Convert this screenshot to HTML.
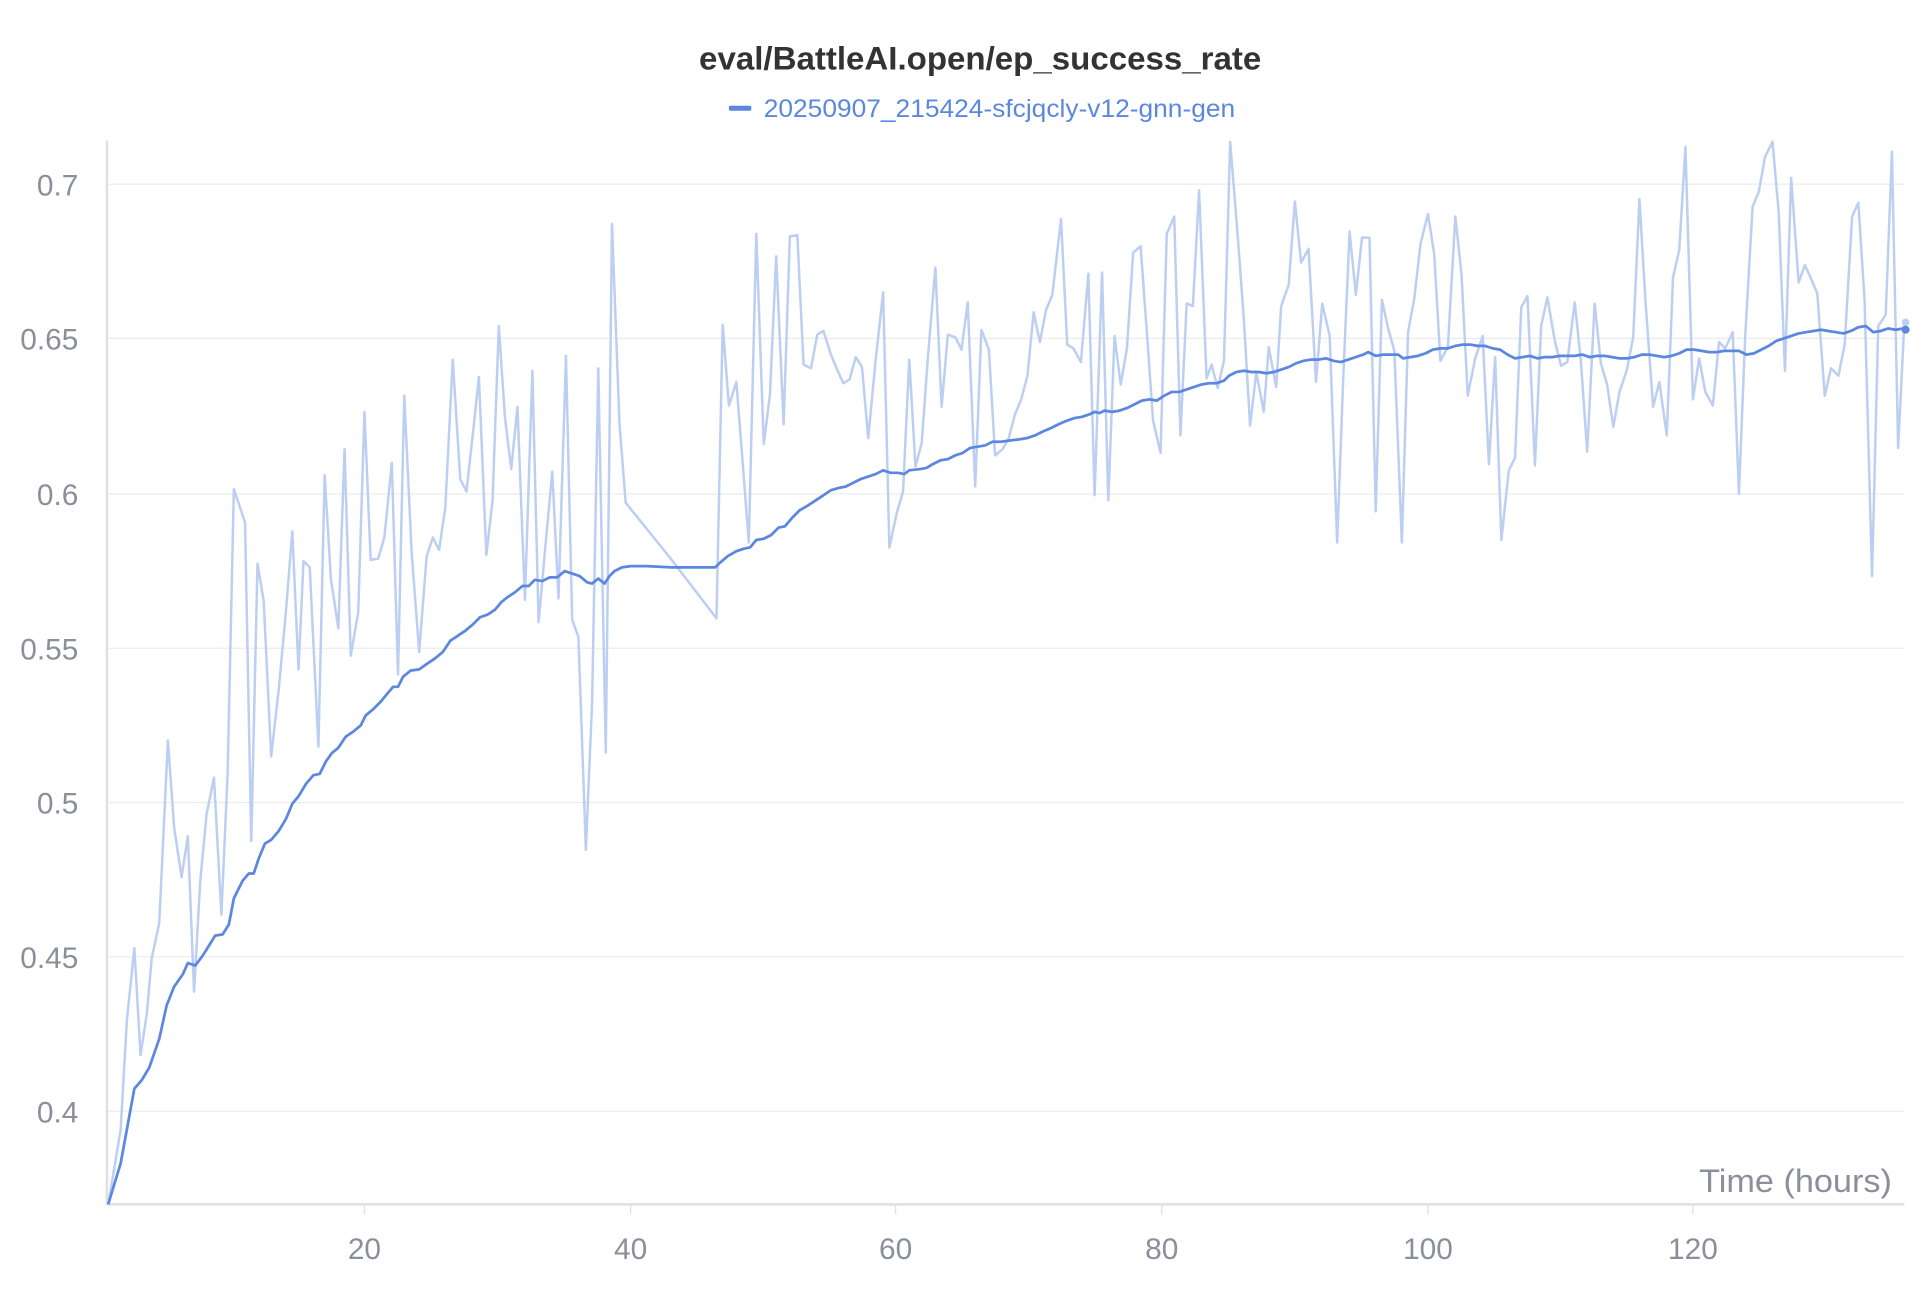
<!DOCTYPE html>
<html><head><meta charset="utf-8"><style>
html,body{margin:0;padding:0;background:#fff;}
svg{display:block;}
text{font-family:"Liberation Sans",sans-serif;}
</style></head><body>
<svg width="1928" height="1294" viewBox="0 0 1550 1040" preserveAspectRatio="none" xmlns="http://www.w3.org/2000/svg">
<rect width="1550" height="1040" fill="#fff"/>
<text x="788" y="56" text-anchor="middle" font-size="26" font-weight="bold" fill="#333" textLength="452" lengthAdjust="spacingAndGlyphs">eval/BattleAI.open/ep_success_rate</text>
<rect x="586" y="85" width="18" height="4" rx="1" fill="#5b87e0"/>
<text x="614" y="94" font-size="20" fill="#5b87e0" textLength="379" lengthAdjust="spacingAndGlyphs">20250907_215424-sfcjqcly-v12-gnn-gen</text>
<g stroke="#ececec" stroke-width="1">
<line x1="86" x2="1531" y1="148" y2="148"/><line x1="86" x2="1531" y1="272" y2="272"/>
<line x1="86" x2="1531" y1="397" y2="397"/><line x1="86" x2="1531" y1="521" y2="521"/>
<line x1="86" x2="1531" y1="645" y2="645"/><line x1="86" x2="1531" y1="769" y2="769"/>
<line x1="86" x2="1531" y1="893" y2="893"/>
</g>
<line x1="86" y1="113" x2="86" y2="969" stroke="#e0e0e0" stroke-width="2"/>
<line x1="86" y1="968" x2="1531" y2="968" stroke="#e0e0e0" stroke-width="2"/>
<g stroke="#e0e0e0" stroke-width="1"><line x1="293" x2="293" y1="968" y2="976"/><line x1="507" x2="507" y1="968" y2="976"/><line x1="720" x2="720" y1="968" y2="976"/><line x1="934" x2="934" y1="968" y2="976"/><line x1="1148" x2="1148" y1="968" y2="976"/><line x1="1361" x2="1361" y1="968" y2="976"/></g>
<g font-size="24" fill="#8a8f99" text-anchor="end">
<text x="63" y="157">0.7</text><text x="63" y="281">0.65</text><text x="63" y="406">0.6</text><text x="63" y="530">0.55</text><text x="63" y="654">0.5</text><text x="63" y="778">0.45</text><text x="63" y="902">0.4</text>
</g>
<g font-size="24" fill="#8a8f99" text-anchor="middle">
<text x="293" y="1012">20</text><text x="507" y="1012">40</text><text x="720" y="1012">60</text><text x="934" y="1012">80</text><text x="1148" y="1012">100</text><text x="1361" y="1012">120</text>
</g>
<text x="1521" y="958" font-size="26" fill="#8a8f99" text-anchor="end" textLength="155" lengthAdjust="spacingAndGlyphs">Time (hours)</text>
<polyline fill="none" stroke="#bccff2" stroke-width="2" stroke-linejoin="round" points="87,968 97,908 102,820 108,762 113,848 118,815 122,770 128,742 135,595 140,665 146,705 151,672 156,797 161,708 166,655 172,625 178,735 183,622 188,393 197,420 202,676 207,453 212,483 218,608 224,555 230,490 235,427 240,538 244,451 249,456 256,600 261,382 266,465 272,505 277,361 282,527 288,492 293,331 298,450 304,449 309,432 315,372 320,542 325,318 331,445 337,524 343,447 348,432 353,442 358,408 364,289 370,385 375,395 381,341 385,303 391,446 396,402 401,262 406,336 411,377 416,327 422,482 428,298 433,500 438,444 444,379 449,481 455,286 460,498 465,512 471,683 476,565 481,296 487,605 492,180 498,340 503,404 540,450 576,497 581,261 586,326 592,307 597,371 602,436 608,188 614,357 619,317 624,206 630,341 635,190 641,189 646,293 652,296 657,269 662,266 668,285 673,297 678,308 683,305 688,287 693,295 698,352 704,289 710,235 715,440 721,412 726,395 731,289 736,375 741,356 746,287 752,215 757,327 762,269 768,271 773,281 778,243 784,391 789,265 795,281 800,366 806,361 811,352 816,333 821,321 826,302 831,251 836,275 841,249 846,237 853,176 858,277 863,280 869,291 875,220 880,398 886,219 891,402 896,270 901,309 906,280 911,203 917,198 922,267 927,338 933,364 938,188 944,174 949,350 954,244 959,246 964,153 970,304 974,293 979,312 984,290 989,114 995,189 1000,257 1005,342 1010,299 1016,331 1020,279 1026,311 1030,246 1036,229 1041,162 1046,211 1052,200 1058,307 1063,244 1069,270 1075,436 1080,301 1085,186 1090,237 1095,191 1101,191 1106,411 1111,241 1116,264 1121,282 1127,436 1132,267 1137,240 1142,196 1148,172 1153,204 1158,290 1164,279 1170,174 1175,221 1180,318 1186,288 1192,270 1197,373 1202,287 1207,434 1213,378 1218,368 1223,247 1228,238 1234,374 1239,262 1244,239 1250,274 1255,294 1260,291 1266,243 1271,291 1276,363 1282,244 1287,292 1292,309 1297,343 1302,315 1308,297 1313,271 1318,160 1323,244 1329,327 1334,307 1340,350 1345,223 1350,201 1355,118 1361,321 1366,288 1371,315 1377,326 1382,275 1387,280 1393,267 1398,397 1403,271 1409,166 1414,154 1419,126 1425,114 1430,171 1435,298 1440,143 1446,227 1451,213 1456,224 1461,236 1467,318 1472,296 1478,302 1483,277 1489,174 1494,163 1499,241 1505,463 1510,262 1516,253 1521,122 1526,360 1531,259"/>
<polyline fill="none" stroke="#5b87e0" stroke-width="2.2" stroke-linejoin="round" points="87,968 97,935 108,875 114,868 120,858 128,835 134,808 140,793 147,783 151,774 157,776 163,768 168,760 173,752 179,751 184,743 188,722 195,708 200,702 204,702 208,690 213,678 218,675 224,668 230,658 235,646 240,640 246,630 252,623 257,622 262,612 267,605 272,601 278,592 284,588 290,583 294,575 300,570 306,564 311,558 316,552 320,552 324,544 330,539 337,538 344,533 350,529 356,524 362,515 368,511 374,507 380,502 386,496 392,494 398,490 403,484 408,480 414,476 420,471 425,471 430,466 436,467 442,464 448,464 454,459 460,461 466,463 472,468 476,469 481,465 486,469 490,463 494,459 500,456 507,455 520,455 540,456 560,456 575,456 578,453 585,447 592,443 598,441 603,440 608,434 614,433 620,430 626,424 631,423 637,416 643,410 650,406 656,402 662,398 668,394 675,392 680,391 686,388 692,385 698,383 704,381 710,378 716,380 722,380 727,381 731,378 740,377 745,376 750,373 756,370 762,369 768,366 774,364 780,360 786,359 792,358 798,355 805,355 812,354 820,353 826,352 832,350 838,347 845,344 851,341 858,338 864,336 870,335 876,333 880,331 884,332 888,330 894,331 900,330 906,328 912,325 918,322 924,321 930,322 936,318 942,315 948,315 954,313 960,311 966,309 972,308 978,308 984,306 988,302 994,299 1000,298 1006,299 1012,299 1018,300 1024,299 1030,297 1036,295 1042,292 1048,290 1054,289 1060,289 1066,288 1072,290 1078,291 1084,289 1090,287 1096,285 1100,283 1106,286 1112,285 1118,285 1124,285 1128,288 1134,287 1140,286 1146,284 1152,281 1158,280 1164,280 1170,278 1176,277 1182,277 1188,278 1194,278 1200,280 1206,281 1212,285 1218,288 1224,287 1230,286 1236,288 1242,287 1248,287 1254,286 1260,286 1266,286 1272,285 1278,287 1284,286 1290,286 1296,287 1302,288 1308,288 1314,287 1320,285 1326,285 1332,286 1338,287 1344,286 1350,284 1356,281 1362,281 1368,282 1374,283 1380,283 1386,282 1392,282 1398,282 1404,285 1410,284 1416,281 1422,278 1428,274 1434,272 1440,270 1446,268 1452,267 1458,266 1464,265 1470,266 1476,267 1482,268 1488,266 1494,263 1500,262 1506,267 1512,266 1518,264 1524,265 1530,264"/>
<circle cx="1532" cy="259" r="3" fill="#bccff2"/>
<circle cx="1532" cy="265" r="3.2" fill="#5b87e0"/>
</svg>
</body></html>
